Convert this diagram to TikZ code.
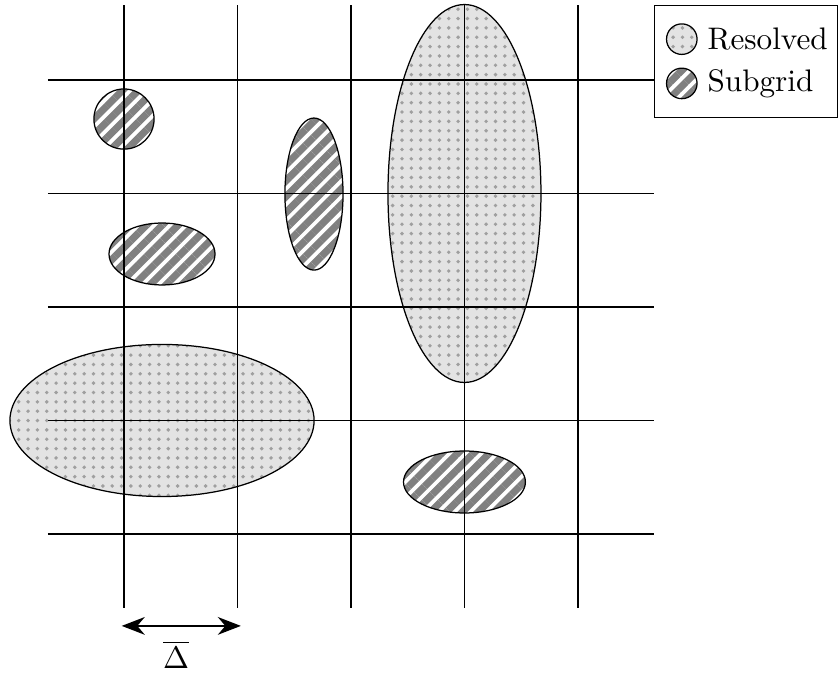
\documentclass[tikz,border=0pt]{standalone}
\usetikzlibrary{arrows.meta,positioning,patterns.meta,calc}
\tikzset{
  gridline/.style={draw=black, line width=0.4pt},
  resolved/.style={draw=black, line width=0.4pt, preaction={fill=gray!22},
                   pattern={Dots[radius=0.62pt, distance=3pt]}, pattern color=gray!75},
  subgrid/.style={draw=black, line width=0.4pt, preaction={fill=white},
                  pattern={Lines[angle=45, distance=3.6pt, line width=2.3pt]}, pattern color=gray},
  legendbox/.style={draw=black, line width=0.4pt, fill=white, minimum width=1.612*1.28cm,
                    minimum height=0.987*1.28cm, inner sep=0pt},
  icon/.style={circle, minimum size=9.8pt, inner sep=0pt},
  lbl/.style={inner sep=2pt, anchor=west},
  darr/.style={{Stealth[length=2.6mm, width=2mm]}-{Stealth[length=2.6mm, width=2mm]}, semithick},
}

\begin{document}
\begin{tikzpicture}[x=1.28cm, y=1.28cm]
\useasboundingbox (-1.0925,-1.2247) rectangle (6.3,4.705);

% resolved eddies
\draw[resolved] (3,3) ellipse (0.674 and 1.665);
\draw[resolved] (0.335,1) ellipse (1.34 and 0.67);

% subgrid eddies
\draw[subgrid] (0,3.656) circle (0.265);
\draw[subgrid] (0.335,2.467) ellipse (0.467 and 0.273);
\draw[subgrid] (1.674,2.995) ellipse (0.256 and 0.67);
\draw[subgrid] (3,0.458) ellipse (0.537 and 0.273);

% mesh
\foreach \i in {0,...,4} {
  \draw[gridline] (\i,-0.65) -- (\i,4.66);
  \draw[gridline] (-0.67,\i) -- (4.67,\i);
}

% legend
\node[legendbox, anchor=north west] (legend) at (4.67,4.66) {};
\node[icon, resolved] (iconres) at ($(legend.north west)+(0.245,-0.3)$) {};
\node[lbl, right=1pt of iconres] (txtres) {Resolved};
\node[icon, subgrid] (iconsub) at ($(legend.north west)+(0.245,-0.69)$) {};
\node[lbl, right=1pt of iconsub] (txtsub) {Subgrid};

% filter width
\coordinate (wl) at (-0.02,-0.81);
\coordinate (wr) at (1.03,-0.81);
\draw[darr] (wl) -- (wr);
\node[inner sep=1pt] (delta) at (0.46,-1.06) {$\overline{\Delta}$};

\end{tikzpicture}
\end{document}
